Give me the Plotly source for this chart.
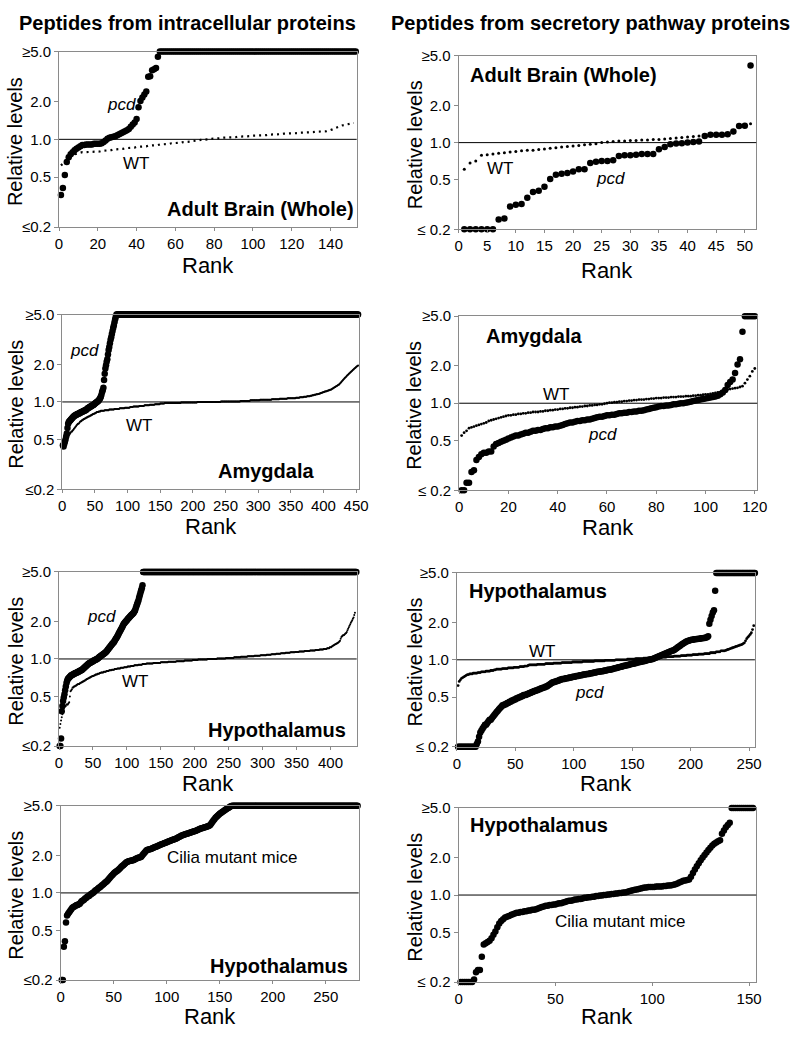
import plotly.graph_objects as go
import math

# ---------------- DATA (ranked order) ----------------
# Row 1 left: Adult brain (whole), intracellular
pcd_brain_intra = ([0.36, 0.41, 0.52, 0.66, 0.72, 0.76, 0.79, 0.82, 0.84, 0.86,
                    0.88, 0.90, 0.90, 0.91, 0.91, 0.91, 0.91, 0.92, 0.92, 0.92,
                    0.92, 0.93, 0.95, 0.98, 1.01, 1.03, 1.04, 1.05, 1.06, 1.08,
                    1.10, 1.12, 1.14, 1.16, 1.18, 1.21, 1.26, 1.31, 1.36, 1.45,
                    1.80, 2.02, 2.15, 2.28, 2.40, 3.15, 3.18, 3.55, 3.62, 3.70,
                    4.55] + [5.0] * 102)
wt_brain_intra = [0.62, 0.64, 0.66, 0.69, 0.71, 0.73, 0.75, 0.76, 0.77, 0.78,
                  0.78, 0.79, 0.79, 0.79, 0.79, 0.79, 0.80, 0.80, 0.80, 0.80,
                  0.80, 0.81, 0.81, 0.81, 0.82, 0.82, 0.82, 0.83, 0.83, 0.83,
                  0.84, 0.84, 0.84, 0.85, 0.85, 0.85, 0.86, 0.86, 0.86, 0.87,
                  0.87, 0.87, 0.88, 0.88, 0.88, 0.89, 0.89, 0.89, 0.90, 0.90,
                  0.90, 0.91, 0.91, 0.91, 0.92, 0.92, 0.92, 0.93, 0.93, 0.93,
                  0.94, 0.94, 0.94, 0.95, 0.95, 0.96, 0.96, 0.96, 0.97, 0.97,
                  0.98, 0.98, 0.99, 0.99, 1.00, 1.00, 1.00, 1.01, 1.01, 1.01,
                  1.02, 1.02, 1.02, 1.03, 1.03, 1.03, 1.03, 1.04, 1.04, 1.04,
                  1.04, 1.05, 1.05, 1.05, 1.05, 1.06, 1.06, 1.06, 1.06, 1.07,
                  1.07, 1.07, 1.07, 1.08, 1.08, 1.08, 1.08, 1.09, 1.09, 1.09,
                  1.09, 1.10, 1.10, 1.10, 1.10, 1.11, 1.11, 1.11, 1.11, 1.12,
                  1.12, 1.12, 1.12, 1.13, 1.13, 1.13, 1.13, 1.14, 1.14, 1.14,
                  1.14, 1.15, 1.15, 1.15, 1.15, 1.16, 1.16, 1.16, 1.17, 1.18,
                  1.20, 1.22, 1.24, 1.26, 1.28, 1.29, 1.30, 1.31, 1.32, 1.33,
                  1.34, 1.35]

# Row 1 right: Adult brain (whole), secretory
pcd_brain_secr = [0.2, 0.2, 0.2, 0.2, 0.2, 0.2, 0.24, 0.245, 0.305, 0.315,
                  0.32, 0.36, 0.40, 0.41, 0.44, 0.51, 0.55, 0.56, 0.57, 0.585,
                  0.61, 0.61, 0.685, 0.70, 0.71, 0.71, 0.72, 0.78, 0.79, 0.79,
                  0.80, 0.81, 0.81, 0.81, 0.885, 0.92, 0.97, 0.985, 0.99, 1.00,
                  1.01, 1.02, 1.13, 1.16, 1.16, 1.16, 1.17, 1.23, 1.36, 1.37,
                  4.19]
wt_brain_secr = [0.61, 0.685, 0.71, 0.79, 0.80, 0.81, 0.82, 0.83, 0.84, 0.85,
                 0.86, 0.87, 0.87, 0.88, 0.89, 0.90, 0.91, 0.92, 0.93, 0.94,
                 0.95, 0.96, 0.97, 0.98, 1.00, 1.01, 1.02, 1.03, 1.03, 1.04,
                 1.04, 1.05, 1.05, 1.06, 1.06, 1.07, 1.08, 1.09, 1.10, 1.11,
                 1.12, 1.13, 1.14, 1.15, 1.16, 1.17, 1.18, 1.20, 1.36, 1.38,
                 1.42]

# Row 2 left: Amygdala, intracellular
pcd_amyg_intra = ([0.45, 0.44, 0.46, 0.48, 0.50, 0.53, 0.56, 0.62, 0.67, 0.69,
                   0.70, 0.71, 0.72, 0.73, 0.74, 0.75, 0.76, 0.77, 0.78, 0.78,
                   0.79, 0.79, 0.80, 0.80, 0.81, 0.81, 0.82, 0.82, 0.83, 0.83,
                   0.84, 0.84, 0.85, 0.85, 0.86, 0.86, 0.87, 0.88, 0.89, 0.90,
                   0.90, 0.91, 0.92, 0.92, 0.93, 0.94, 0.94, 0.95, 0.96, 0.97,
                   0.98, 0.99, 1.00, 1.01, 1.02, 1.03, 1.05, 1.07, 1.10, 1.14,
                   1.20, 1.24, 1.30, 1.50, 1.68, 1.85, 1.97, 2.10, 2.20, 2.40,
                   2.60, 2.75, 2.95, 3.15, 3.30, 3.50, 3.70, 3.90, 4.10, 4.35,
                   4.60, 4.80] + [5.0] * 371)
wt_amyg_intra = ([0.43, 0.44, 0.46, 0.47,
                  0.49, 0.50, 0.51, 0.52, 0.53, 0.54, 0.55, 0.56, 0.57, 0.58, 0.58, 0.59,
                  0.60, 0.61, 0.62, 0.63, 0.64, 0.65, 0.66, 0.67, 0.67, 0.68, 0.69, 0.70,
                  0.70, 0.71, 0.72,
                  0.72, 0.73, 0.73, 0.74, 0.74, 0.75, 0.75, 0.76,
                  0.76, 0.77, 0.77, 0.78, 0.78, 0.79, 0.79, 0.80, 0.80, 0.81, 0.81, 0.82,
                  0.82, 0.83, 0.83, 0.83, 0.84, 0.84, 0.84, 0.85, 0.85]
                 + [0.85] * 4 + [0.86] * 7 + [0.87] * 8 + [0.88] * 8 + [0.89] * 8
                 + [0.90] * 8 + [0.91] * 5 + [0.92] * 3
                 + [0.92] * 6 + [0.93] * 8 + [0.94] * 8 + [0.95] * 8 + [0.96] * 8
                 + [0.97] * 7 + [0.98] * 5
                 + [0.98] * 20 + [0.99] * 25 + [1.00] * 6
                 + [1.00] * 30 + [1.01] * 20
                 + [1.01] * 10 + [1.02] * 15 + [1.03] * 15 + [1.04] * 10
                 + [1.04] * 8 + [1.05] * 12 + [1.06] * 12 + [1.07] * 8
                 + [1.07] * 5 + [1.08] * 6 + [1.09] * 6 + [1.10] * 5 + [1.11] * 3
                 + [1.11, 1.11, 1.12, 1.12, 1.12, 1.13, 1.13, 1.13, 1.14, 1.14,
                    1.14, 1.15, 1.15, 1.15, 1.16]
                 + [1.16, 1.17, 1.17, 1.18, 1.18, 1.19, 1.19, 1.20, 1.20, 1.21,
                    1.21, 1.22, 1.22, 1.23, 1.23, 1.24, 1.24, 1.25, 1.25, 1.26]
                 + [1.27, 1.28, 1.29, 1.30, 1.31, 1.32, 1.33, 1.34, 1.35, 1.36,
                    1.37, 1.38, 1.40, 1.42, 1.44, 1.46, 1.48, 1.50, 1.52, 1.54]
                 + [1.56, 1.58, 1.60, 1.62, 1.64, 1.66, 1.68, 1.70, 1.72, 1.74,
                    1.76, 1.78, 1.80, 1.82, 1.84, 1.86, 1.88, 1.90, 1.92, 1.94, 1.96])

# Row 2 right: Amygdala, secretory
pcd_amyg_secr = [0.2, 0.2, 0.23, 0.23, 0.28, 0.29, 0.35, 0.37, 0.39, 0.40,
                 0.40, 0.41, 0.41, 0.45, 0.47, 0.48, 0.49, 0.50, 0.51, 0.52,
                 0.53, 0.54, 0.55, 0.55, 0.56, 0.57, 0.58, 0.58, 0.59, 0.60,
                 0.60, 0.61, 0.61, 0.62, 0.63, 0.63, 0.64, 0.64, 0.65, 0.65,
                 0.66, 0.67, 0.68, 0.69, 0.70, 0.70, 0.71, 0.72, 0.72, 0.73,
                 0.73, 0.74, 0.74, 0.75, 0.76, 0.77, 0.78, 0.78, 0.79, 0.80,
                 0.80, 0.81, 0.81, 0.82, 0.83, 0.83, 0.84, 0.84, 0.85, 0.85,
                 0.86, 0.86, 0.87, 0.87, 0.88, 0.89, 0.90, 0.91, 0.92, 0.93,
                 0.94, 0.95, 0.95, 0.96, 0.96, 0.97, 0.98, 0.98, 0.99, 1.00,
                 1.00, 1.01, 1.02, 1.03, 1.04, 1.05, 1.06, 1.07, 1.08, 1.09,
                 1.10, 1.11, 1.12, 1.13, 1.15, 1.18, 1.22, 1.28, 1.40, 1.48,
                 1.55, 1.75, 2.05, 2.25, 3.75, 5.0, 5.0, 5.0, 5.0, 5.0]
wt_amyg_secr = [0.55, 0.58, 0.60, 0.63, 0.64, 0.65, 0.66, 0.67, 0.68, 0.69,
                0.70, 0.72, 0.73, 0.74, 0.75, 0.76, 0.77, 0.78, 0.79, 0.80,
                0.80, 0.81, 0.81, 0.82, 0.82, 0.83, 0.83, 0.84, 0.84, 0.85,
                0.85, 0.85, 0.86, 0.86, 0.87, 0.87, 0.88, 0.88, 0.89, 0.89,
                0.90, 0.90, 0.91, 0.91, 0.92, 0.92, 0.93, 0.93, 0.94, 0.94,
                0.95, 0.95, 0.96, 0.96, 0.97, 0.97, 0.98, 0.98, 0.99, 1.00,
                1.01, 1.01, 1.02, 1.02, 1.03, 1.03, 1.04, 1.04, 1.05, 1.05,
                1.06, 1.06, 1.07, 1.07, 1.07, 1.08, 1.08, 1.09, 1.09, 1.10,
                1.10, 1.10, 1.11, 1.11, 1.11, 1.12, 1.12, 1.12, 1.13, 1.13,
                1.13, 1.14, 1.14, 1.14, 1.15, 1.15, 1.16, 1.16, 1.17, 1.18,
                1.18, 1.19, 1.20, 1.21, 1.22, 1.23, 1.25, 1.27, 1.29, 1.30,
                1.31, 1.32, 1.33, 1.35, 1.37, 1.45, 1.55, 1.65, 1.80, 1.90]

# Row 3 left: Hypothalamus, intracellular
pcd_hyp_intra = ([0.2, 0.2, 0.23, 0.38, 0.42, 0.46, 0.49, 0.52,
                  0.56, 0.60, 0.64, 0.67,
                  0.69, 0.70, 0.71, 0.72, 0.73, 0.74, 0.74, 0.75,
                  0.75, 0.76, 0.76, 0.77, 0.77, 0.78, 0.78, 0.79, 0.79, 0.80,
                  0.80, 0.81, 0.81, 0.82, 0.83, 0.84, 0.85, 0.86, 0.87, 0.88, 0.89, 0.90,
                  0.91, 0.92, 0.93, 0.93, 0.94, 0.95, 0.95, 0.96, 0.97, 0.97, 0.98, 0.99,
                  0.99, 1.00,
                  1.01, 1.02, 1.03, 1.04, 1.05, 1.06, 1.07, 1.08, 1.09, 1.10, 1.11, 1.12,
                  1.14, 1.15, 1.17,
                  1.19, 1.21, 1.23, 1.25, 1.27, 1.29, 1.31, 1.33, 1.35, 1.37, 1.40, 1.43,
                  1.46, 1.49, 1.52,
                  1.56, 1.60, 1.64, 1.68, 1.72, 1.76, 1.80, 1.85, 1.90,
                  1.93, 1.96, 1.99, 2.02, 2.05, 2.08, 2.11, 2.14, 2.17,
                  2.20, 2.23, 2.26, 2.29, 2.32, 2.35, 2.40, 2.45,
                  2.55, 2.65, 2.75, 2.85, 2.95,
                  3.10, 3.25, 3.40, 3.55, 3.70, 3.90] + [5.0] * 315)
wt_hyp_intra = ([0.28, 0.30, 0.32, 0.34, 0.36, 0.38, 0.40, 0.41, 0.42, 0.42,
                 0.43, 0.43, 0.43, 0.44, 0.45, 0.50,
                 0.55, 0.56, 0.57, 0.59, 0.59, 0.60, 0.60, 0.61, 0.61,
                 0.62, 0.62, 0.63, 0.63, 0.63, 0.64, 0.64, 0.65, 0.65, 0.66,
                 0.66, 0.67, 0.67, 0.68, 0.68, 0.69, 0.69, 0.70, 0.70, 0.71, 0.71,
                 0.72, 0.72, 0.73, 0.73, 0.73, 0.74, 0.74, 0.75, 0.75, 0.75,
                 0.76, 0.76, 0.76, 0.77, 0.77]
                + [0.78] * 4 + [0.79] * 4 + [0.80] * 4 + [0.81] * 4 + [0.82] * 4 + [0.83] * 4
                + [0.84] * 5 + [0.85] * 5 + [0.86] * 5 + [0.87] * 5 + [0.88] * 5
                + [0.89] * 6 + [0.90] * 6 + [0.91] * 6 + [0.92] * 5
                + [0.92] * 5 + [0.93] * 11 + [0.94] * 11
                + [0.95] * 12 + [0.96] * 12 + [0.97] * 12 + [0.98] * 8 + [0.99] * 4
                + [0.99] * 10 + [1.00] * 14 + [1.01] * 13 + [1.02] * 12
                + [1.03] * 10 + [1.04] * 10 + [1.05] * 10 + [1.06] * 9 + [1.07] * 9
                + [1.08] * 7 + [1.09] * 7 + [1.10] * 7 + [1.11] * 7 + [1.12] * 7
                + [1.13] * 7 + [1.14] * 6
                + [1.15] * 8 + [1.16] * 8 + [1.17] * 8 + [1.18] * 6 + [1.19] * 6
                + [1.20] * 5 + [1.22] * 4 + [1.24] * 3
                + [1.26, 1.27, 1.28, 1.29, 1.30, 1.31, 1.32, 1.33, 1.34, 1.35,
                   1.36, 1.38, 1.40, 1.45, 1.50]
                + [1.52, 1.54, 1.55, 1.56, 1.58, 1.60, 1.62, 1.65, 1.70, 1.75,
                   1.80, 1.85, 1.90, 1.95, 2.00, 2.05, 2.10, 2.15, 2.25, 2.35])

# Row 3 right: Hypothalamus, secretory
pcd_hyp_secr = ([0.2] * 16
                + [0.21, 0.22, 0.24, 0.26,
                   0.27, 0.28, 0.29, 0.30, 0.30, 0.31, 0.32, 0.33, 0.33, 0.34,
                   0.35, 0.36, 0.37, 0.38, 0.39, 0.40, 0.41, 0.42, 0.43, 0.43,
                   0.44, 0.44, 0.45, 0.45, 0.46, 0.46, 0.47, 0.47, 0.48, 0.48,
                   0.49, 0.49, 0.50, 0.50, 0.51, 0.51, 0.52, 0.52, 0.52, 0.53,
                   0.53, 0.54, 0.54, 0.55, 0.55, 0.56, 0.56, 0.57, 0.57, 0.58,
                   0.58, 0.59, 0.59, 0.60, 0.60, 0.61, 0.61, 0.62, 0.63, 0.64,
                   0.65, 0.66, 0.66, 0.67, 0.67, 0.68, 0.68, 0.69, 0.69, 0.70,
                   0.70, 0.70, 0.71, 0.71, 0.71, 0.72, 0.72, 0.72, 0.73, 0.73,
                   0.73, 0.74, 0.74, 0.74, 0.75, 0.75, 0.75, 0.76, 0.76, 0.76,
                   0.77, 0.77, 0.77, 0.78, 0.78, 0.78, 0.79, 0.79, 0.79, 0.80,
                   0.80, 0.80, 0.81, 0.81, 0.81, 0.82, 0.82, 0.82, 0.83, 0.83,
                   0.83, 0.84, 0.84, 0.85, 0.85, 0.86, 0.86, 0.87, 0.87, 0.88,
                   0.88, 0.89, 0.89, 0.90, 0.90, 0.91, 0.91, 0.92, 0.92, 0.93,
                   0.93, 0.94, 0.94, 0.95, 0.95, 0.96, 0.96, 0.97, 0.97, 0.98,
                   0.98, 0.99, 0.99, 1.00, 1.00, 1.01, 1.01, 1.02, 1.03, 1.04,
                   1.05, 1.06, 1.07, 1.08, 1.09, 1.10, 1.11, 1.12, 1.13, 1.14,
                   1.15, 1.16, 1.17, 1.18, 1.19, 1.20, 1.22, 1.24, 1.26, 1.28,
                   1.30, 1.32, 1.34, 1.36, 1.38, 1.40, 1.41, 1.42, 1.43, 1.44,
                   1.45, 1.45, 1.46, 1.46, 1.47, 1.47, 1.48, 1.48, 1.49, 1.49,
                   1.50, 1.50, 1.51, 1.52, 1.55, 1.95, 2.10, 2.25, 2.40, 2.50, 3.60]
                + [5.0] * 34)
wt_hyp_secr = ([0.62, 0.67, 0.69, 0.71, 0.72, 0.73, 0.74, 0.75, 0.76, 0.76,
                0.77, 0.77, 0.77, 0.78, 0.78, 0.78, 0.78, 0.79, 0.79, 0.79]
               + [0.80] * 4 + [0.81] * 4 + [0.82] * 3 + [0.83] * 2
               + [0.84] * 5 + [0.85] * 5 + [0.86] * 5 + [0.87] * 5 + [0.88] * 4
               + [0.89] * 3 + [0.90] * 1
               + [0.91] * 7 + [0.92] * 7 + [0.93] * 7 + [0.94] * 7
               + [0.95] * 9 + [0.96] * 9 + [0.97] * 10
               + [0.98] * 9 + [0.99] * 9 + [1.00] * 10
               + [1.01] * 7 + [1.02] * 7 + [1.03] * 7 + [1.04] * 7
               + [1.05] * 6 + [1.06] * 6 + [1.07] * 6 + [1.08] * 5 + [1.09] * 5
               + [1.10] * 5 + [1.11] * 5 + [1.12] * 5 + [1.14] * 5 + [1.16] * 4 + [1.18] * 4
               + [1.19, 1.20, 1.21, 1.22, 1.23, 1.24, 1.25, 1.26, 1.27, 1.28,
                  1.29, 1.30, 1.31, 1.32, 1.33, 1.35, 1.37]
               + [1.42, 1.48, 1.52, 1.56, 1.60, 1.65, 1.75, 1.88])

# Row 4 left: Hypothalamus, cilia mutant, intracellular
cilia_intra = ([0.2, 0.2, 0.37, 0.41, 0.58,
                0.66, 0.68, 0.70, 0.72, 0.74,
                0.76, 0.77, 0.78, 0.79, 0.80, 0.80, 0.81, 0.82, 0.84, 0.86,
                0.87, 0.88, 0.90, 0.91, 0.93, 0.94, 0.95, 0.97, 0.98, 1.00,
                1.01, 1.03, 1.05, 1.06, 1.08, 1.10, 1.11, 1.13, 1.15, 1.17,
                1.19, 1.21, 1.23, 1.25, 1.28, 1.31, 1.34, 1.37, 1.40, 1.43,
                1.46, 1.48, 1.50, 1.52, 1.55, 1.58, 1.61, 1.64, 1.67, 1.70,
                1.73, 1.76, 1.78, 1.79, 1.80, 1.81, 1.82, 1.83, 1.84, 1.86,
                1.88, 1.90, 1.91, 1.92, 1.93, 1.95, 2.00, 2.05, 2.10, 2.15,
                2.20, 2.22, 2.23, 2.24, 2.25, 2.27, 2.29, 2.31, 2.33, 2.35,
                2.37, 2.39, 2.41, 2.43, 2.45, 2.47, 2.49, 2.51, 2.53, 2.55,
                2.57, 2.59, 2.61, 2.63, 2.65, 2.67, 2.69, 2.71, 2.73, 2.76,
                2.79, 2.82, 2.85, 2.88, 2.90, 2.92, 2.94, 2.96, 2.98, 3.00,
                3.02, 3.04, 3.06, 3.08, 3.10, 3.12, 3.14, 3.17, 3.20, 3.23,
                3.26, 3.28, 3.30, 3.32, 3.34, 3.36, 3.38, 3.40, 3.42, 3.45,
                3.50, 3.60, 3.70, 3.80, 3.90, 4.00, 4.08, 4.16, 4.24, 4.32,
                4.38, 4.44, 4.50, 4.56, 4.62, 4.68, 4.74, 4.80, 4.86, 4.92, 4.97]
               + [5.0] * 119)

# Row 4 right: Hypothalamus, cilia mutant, secretory
cilia_secr = ([0.2] * 7
              + [0.21, 0.24, 0.25, 0.25, 0.32,
                 0.40, 0.41, 0.42, 0.43, 0.45, 0.48, 0.51, 0.55,
                 0.59, 0.62, 0.64, 0.66, 0.67, 0.68, 0.69, 0.70, 0.71, 0.72,
                 0.72, 0.73, 0.73, 0.74, 0.74, 0.75, 0.75, 0.76, 0.76, 0.77,
                 0.78, 0.79, 0.80, 0.81, 0.82, 0.82, 0.83, 0.83, 0.84, 0.84,
                 0.85, 0.86, 0.86, 0.87, 0.88, 0.89, 0.90, 0.90, 0.91, 0.92,
                 0.92, 0.93, 0.93, 0.94, 0.95, 0.95, 0.96, 0.96, 0.97, 0.97,
                 0.98, 0.98, 0.99, 0.99, 1.00, 1.00, 1.01, 1.01, 1.02, 1.02,
                 1.03, 1.03, 1.04, 1.04, 1.05, 1.05, 1.06, 1.07, 1.08, 1.09,
                 1.10, 1.11, 1.12, 1.13, 1.14, 1.15, 1.15, 1.16, 1.16, 1.16,
                 1.16, 1.17, 1.17, 1.17, 1.17, 1.18, 1.18, 1.19, 1.19, 1.20,
                 1.21, 1.22, 1.24, 1.26, 1.28, 1.30, 1.31, 1.32, 1.33, 1.40,
                 1.50, 1.60, 1.70, 1.80, 1.90, 2.00, 2.10, 2.20, 2.30, 2.40,
                 2.50, 2.58, 2.64, 2.70, 2.75, 3.10, 3.30, 3.50, 3.65, 3.80]
              + [5.0] * 12)

y_tick_vals = [0.2, 0.5, 1.0, 2.0, 5.0]
y_tick_text_left = ["≤0.2", "0.5", "1.0", "2.0", "≥5.0"]
y_tick_text_right = ["≤ 0.2", "0.5", "1.0", "2.0", "≥5.0"]

# ---------------- LAYOUT (pixel geometry of each panel) ----------------
W, H = 798, 1037
FONT = "Liberation Sans, Arial, sans-serif"

panels = [
    dict(L=56, R=359, T=43.3, B=221.7, xmax=153.5, dtick=20, pcd=pcd_brain_intra, wt=wt_brain_intra, side="L"),
    dict(L=462.7, R=765.7, T=47.7, B=224, xmax=52, dtick=5, pcd=pcd_brain_secr, wt=wt_brain_secr, side="R"),
    dict(L=59.3, R=361.7, T=310.7, B=488.3, xmax=455, dtick=50, pcd=pcd_amyg_intra, wt=wt_amyg_intra, side="L"),
    dict(L=463.3, R=766.7, T=312.3, B=489.3, xmax=121, dtick=20, pcd=pcd_amyg_secr, wt=wt_amyg_secr, side="R"),
    dict(L=56, R=359, T=572.3, B=749.3, xmax=438.6, dtick=50, pcd=pcd_hyp_intra, wt=wt_hyp_intra, side="L"),
    dict(L=461, R=764.3, T=573.3, B=750, xmax=255, dtick=50, pcd=pcd_hyp_secr, wt=wt_hyp_secr, side="R"),
    dict(L=57.7, R=361, T=810, B=987.3, xmax=281, dtick=50, pcd=cilia_intra, wt=None, side="L"),
    dict(L=462.7, R=765.7, T=812.3, B=989.3, xmax=153.7, dtick=50, pcd=cilia_secr, wt=None, side="R"),
]
rank_label_y = [261, 266, 526, 527, 787, 787, 1024, 1024]

fig = go.Figure()
annotations = []
shapes = []

def px_x(p):
    return p / W

def px_y(p):
    return 1 - p / H

for i, p in enumerate(panels):
    n = i + 1
    xa = "x" if n == 1 else f"x{n}"
    ya = "y" if n == 1 else f"y{n}"
    xkey = "xaxis" if n == 1 else f"xaxis{n}"
    ykey = "yaxis" if n == 1 else f"yaxis{n}"

    if p["wt"] is not None:
        wt = p["wt"]
        xs = list(range(1, len(wt) + 1))
        if n == 1:
            fig.add_trace(go.Scatter(x=xs, y=wt, mode="lines",
                                     line=dict(color="black", width=2.2, dash="2px,4px"),
                                     xaxis=xa, yaxis=ya, cliponaxis=False, showlegend=False))
        elif n == 2:
            fig.add_trace(go.Scatter(x=xs, y=wt, mode="markers",
                                     marker=dict(size=3, color="black"),
                                     xaxis=xa, yaxis=ya, cliponaxis=False, showlegend=False))
        elif n in (3, 5):
            fig.add_trace(go.Scatter(x=xs, y=wt, mode="markers",
                                     marker=dict(size=2, color="black"),
                                     xaxis=xa, yaxis=ya, cliponaxis=False, showlegend=False))
        else:
            fig.add_trace(go.Scatter(x=xs, y=wt, mode="markers",
                                     marker=dict(size=2.8, color="black"),
                                     xaxis=xa, yaxis=ya, cliponaxis=False, showlegend=False))
    pcd = p["pcd"]
    fig.add_trace(go.Scatter(x=list(range(1, len(pcd) + 1)), y=pcd, mode="markers",
                             marker=dict(size=6.5, color="black"),
                             xaxis=xa, yaxis=ya, cliponaxis=False, showlegend=False))

    fig.update_layout({
        xkey: dict(domain=[px_x(p["L"]), px_x(p["R"])], anchor=ya, range=[0, p["xmax"]],
                   tick0=0, dtick=p["dtick"], showgrid=False, zeroline=False,
                   showline=True, linecolor="#8a8a8a", linewidth=1, mirror=True,
                   ticks="outside", ticklen=3, tickcolor="#8a8a8a",
                   tickfont=dict(family=FONT, size=15, color="black")),
        ykey: dict(domain=[px_y(p["B"]), px_y(p["T"])], anchor=xa, type="log",
                   range=[math.log10(0.2), math.log10(5.0)],
                   tickvals=y_tick_vals,
                   ticktext=y_tick_text_left if p["side"] == "L" else y_tick_text_right,
                   showgrid=False, zeroline=False,
                   showline=True, linecolor="#8a8a8a", linewidth=1, mirror=True,
                   ticks="outside", ticklen=4, tickcolor="#8a8a8a",
                   tickfont=dict(family=FONT, size=15, color="black")),
    })
    shapes.append(dict(type="line", xref=f"{xa} domain", yref=ya, x0=0, x1=1, y0=1.0, y1=1.0,
                       line=dict(color="black", width=1)))
    ylab_x = 12 if p["side"] == "L" else 418
    annotations.append(dict(text="Relative levels", xref="paper", yref="paper",
                            x=px_x(ylab_x), y=px_y((p["T"] + p["B"]) / 2 + 2), textangle=-90,
                            showarrow=False, xanchor="center", yanchor="middle",
                            font=dict(family=FONT, size=20, color="black")))
    annotations.append(dict(text="Rank", xref="paper", yref="paper",
                            x=px_x((p["L"] + p["R"]) / 2), y=px_y(rank_label_y[i]),
                            showarrow=False, xanchor="center", yanchor="middle",
                            font=dict(family=FONT, size=22, color="black")))

def label(text, x, y, size=17, bold=False, italic=False):
    t = text
    if bold:
        t = f"<b>{t}</b>"
    if italic:
        t = f"<i>{t}</i>"
    annotations.append(dict(text=t, xref="paper", yref="paper", x=px_x(x), y=px_y(y),
                            showarrow=False, xanchor="center", yanchor="middle",
                            font=dict(family=FONT, size=size, color="black")))

label("Peptides from intracellular proteins", 187, 14, size=20, bold=True)
label("Peptides from secretory pathway proteins", 597, 14, size=20, bold=True)

label("pcd", 120, 97, italic=True)
label("WT", 134, 157)
label("Adult Brain (Whole)", 261, 203, size=20, bold=True)

label("Adult Brain (Whole)", 569, 67, size=20, bold=True)
label("WT", 505, 162)
label("pcd", 617, 172, italic=True)

label("pcd", 82, 347, italic=True)
label("WT", 137, 423)
label("Amygdala", 267, 470, size=20, bold=True)

label("Amygdala", 539, 332, size=20, bold=True)
label("WT", 562, 392)
label("pcd", 609, 433, italic=True)

label("pcd", 99, 618, italic=True)
label("WT", 133, 684)
label("Hypothalamus", 278, 733, size=20, bold=True)

label("Hypothalamus", 544, 592, size=20, bold=True)
label("WT", 548, 653)
label("pcd", 596, 695, italic=True)

label("Cilia mutant mice", 232, 863, size=17)
label("Hypothalamus", 280, 973, size=20, bold=True)

label("Hypothalamus", 545, 830, size=20, bold=True)
label("Cilia mutant mice", 627, 928, size=17)

fig.update_layout(width=W, height=H, margin=dict(l=0, r=0, t=0, b=0),
                  paper_bgcolor="white", plot_bgcolor="white",
                  annotations=annotations, shapes=shapes, showlegend=False,
                  font=dict(family=FONT, color="black"))

fig.write_html("out.html", config={"displayModeBar": False},
               post_script="document.body.style.margin='0';document.body.style.overflow='hidden';")
